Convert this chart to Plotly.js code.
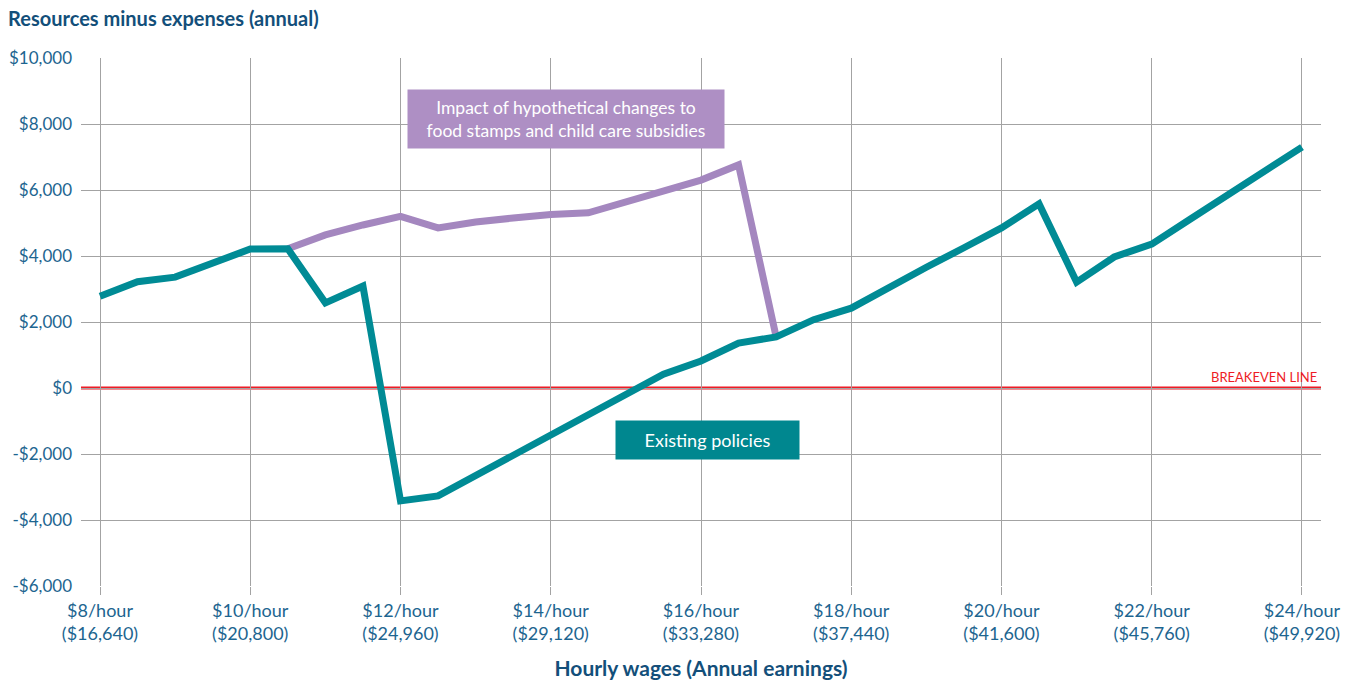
<!DOCTYPE html>
<html>
<head>
<meta charset="utf-8">
<script src="https://cdn.plot.ly/plotly-3.0.1.min.js"></script>
<style>html,body{margin:0;padding:0;background:#fff;}#chart{width:1354px;height:681px;}</style>
</head>
<body>
<div id="chart"></div>
<script>
// Hourly wage ($/hour)
const wages = [8, 8.5, 9, 9.5, 10, 10.5, 11, 11.5, 12, 12.5, 13, 13.5, 14, 14.5, 15, 15.5, 16, 16.5, 17, 17.5, 18, 18.5, 19, 19.5, 20, 20.5, 21, 21.5, 22, 22.5, 23, 23.5, 24];
// Resources minus expenses under existing policies
const existing = [2780, 3220, 3360, 3790, 4210, 4220, 2580, 3090, -3420, -3270, -2650, -2050, -1450, -800, -170, 420, 820, 1360, 1550, 2070, 2420, 3060, 3660, 4250, 4850, 5580, 3210, 3970, 4360, 5100, 5830, 6570, 7300];
// Hypothetical changes to food stamps and child care subsidies
const hypoWages = [10.5, 11, 11.5, 12, 12.5, 13, 13.5, 14, 14.5, 15, 15.5, 16, 16.5, 17];
const hypothetical = [4220, 4640, 4940, 5200, 4850, 5030, 5150, 5260, 5310, 5640, 5940, 6300, 6760, 1550];
// Tick labels
const xTickVals = [8, 10, 12, 14, 16, 18, 20, 22, 24];
const xTickText = ["$8/hour<br>($16,640)", "$10/hour<br>($20,800)", "$12/hour<br>($24,960)", "$14/hour<br>($29,120)", "$16/hour<br>($33,280)", "$18/hour<br>($37,440)", "$20/hour<br>($41,600)", "$22/hour<br>($45,760)", "$24/hour<br>($49,920)"];
const yTickVals = [-6000, -4000, -2000, 0, 2000, 4000, 6000, 8000, 10000];
const yTickText = ["-$6,000", "-$4,000", "-$2,000", "$0", "$2,000", "$4,000", "$6,000", "$8,000", "$10,000"];

const FONT = "Lato, 'Noto Sans', sans-serif";
const BLUE = "#1d6590";
const DARK = "#134f7a";
const RED = "#ee1c25";

const traces = [
  {x: hypoWages, y: hypothetical, type: "scatter", mode: "lines",
   line: {color: "#a487bf", width: 7}, hoverinfo: "x+y", name: "Hypothetical"},
  {x: wages, y: existing, type: "scatter", mode: "lines",
   line: {color: "#008b95", width: 7}, hoverinfo: "x+y", name: "Existing policies"}
];

const layout = {
  width: 1354, height: 681,
  margin: {l: 81, r: 33, t: 58, b: 95},
  paper_bgcolor: "#fff", plot_bgcolor: "#fff",
  showlegend: false,
  font: {family: FONT, color: BLUE},
  title: {text: "<b>Resources minus expenses (annual)</b>", x: 0.006, xanchor: "left", y: 0.972, yanchor: "middle",
          font: {family: FONT, size: 20, color: DARK}},
  xaxis: {
    range: [7.747, 24.253], tickvals: xTickVals, ticktext: xTickText,
    showgrid: true, gridcolor: "#a3a3a3", gridwidth: 1, zeroline: false,
    ticks: "outside", ticklen: 8, tickcolor: "#a3a3a3",
    tickfont: {family: FONT, size: 18, color: BLUE},
    title: {text: "<b>Hourly wages (Annual earnings)</b>", standoff: 18, font: {family: FONT, size: 21, color: DARK}},
    showline: false, fixedrange: true
  },
  yaxis: {
    range: [-6000, 10000], tickvals: yTickVals, ticktext: yTickText,
    showgrid: true, gridcolor: "#a3a3a3", gridwidth: 1, zeroline: false,
    ticks: "", ticklabelstandoff: 8,
    tickfont: {family: FONT, size: 17, color: BLUE},
    showline: false, fixedrange: true
  },
  shapes: [
    {type: "line", xref: "paper", yref: "y", x0: 0, x1: 1, y0: 0, y1: 0,
     line: {color: RED, width: 3}, layer: "between"}
  ],
  annotations: [
    {xref: "paper", yref: "y", x: 0.9985, y: 0, xanchor: "right", yanchor: "bottom", yshift: 1,
     text: "BREAKEVEN LINE", showarrow: false, font: {family: FONT, size: 13, color: RED}},
    {xref: "x", yref: "y", x: 14.2, y: 8150, xanchor: "center", yanchor: "middle",
     text: "Impact of hypothetical changes to<br>food stamps and child care subsidies", showarrow: false,
     bgcolor: "#ae8fc4", borderpad: 7, width: 302, align: "center",
     font: {family: FONT, size: 17.5, color: "#fff"}},
    {xref: "x", yref: "y", x: 16.09, y: -1576, xanchor: "center", yanchor: "middle",
     text: "Existing policies", showarrow: false,
     bgcolor: "#00878f", borderpad: 8, width: 167, align: "center",
     font: {family: FONT, size: 18, color: "#fff"}}
  ]
};

Plotly.newPlot("chart", traces, layout, {displayModeBar: false, staticPlot: true});
</script>
</body>
</html>
